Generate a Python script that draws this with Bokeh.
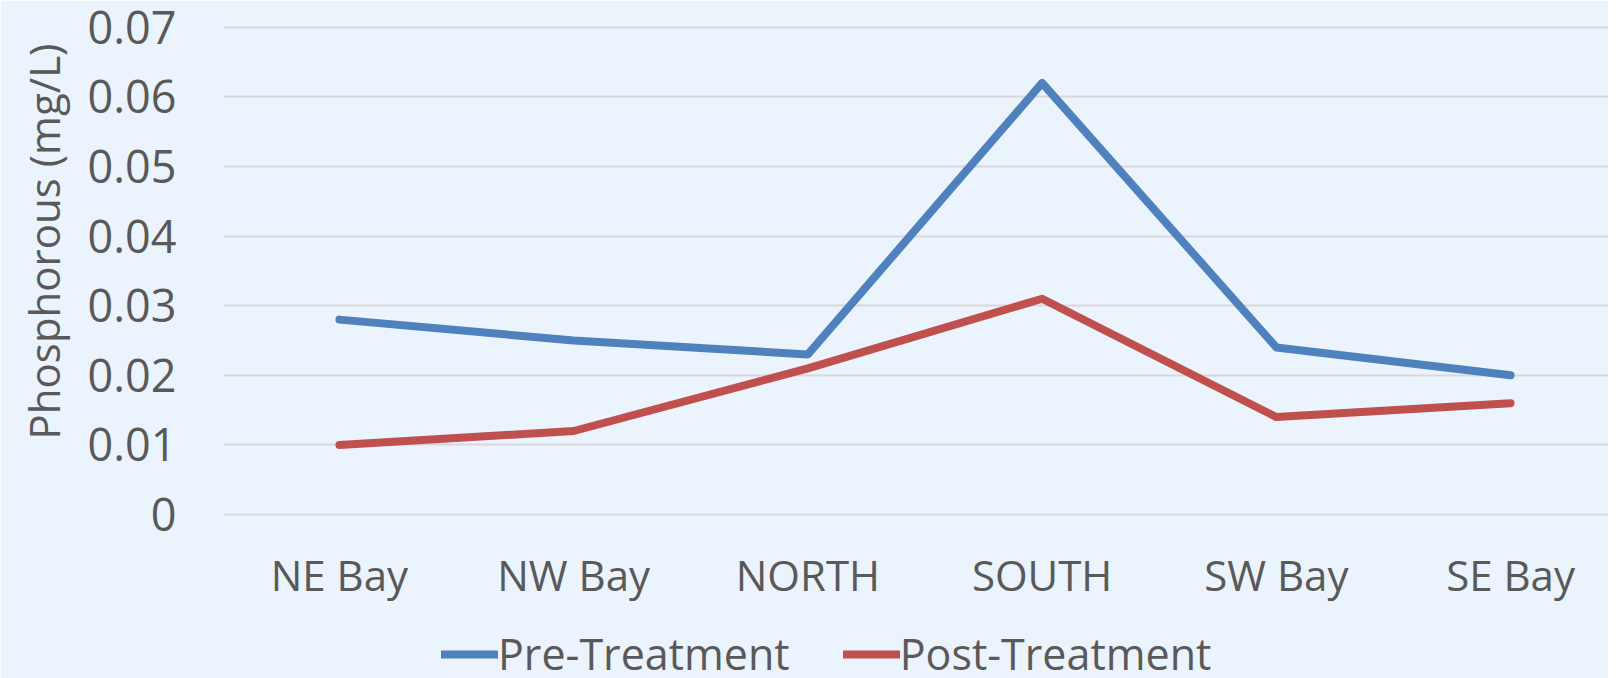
from bokeh.plotting import figure
from bokeh.models import Range1d, FixedTicker, Legend, LegendItem, Title
from bokeh.embed import file_html
from bokeh.resources import INLINE

categories = ["NE Bay", "NW Bay", "NORTH", "SOUTH", "SW Bay", "SE Bay"]
pre_treatment = [0.028, 0.025, 0.023, 0.062, 0.024, 0.020]
post_treatment = [0.010, 0.012, 0.021, 0.031, 0.014, 0.016]
y_ticks = [0, 0.01, 0.02, 0.03, 0.04, 0.05, 0.06, 0.07]
y_tick_labels = ["0", "0.01", "0.02", "0.03", "0.04", "0.05", "0.06", "0.07"]
y_title = "Phosphorous (mg/L)"

FONT = "Open Sans"
TXT = "#595959"
BG = "#EBF3FD"

xs = list(range(len(categories)))

p = figure(frame_width=1385, frame_height=670, output_backend="svg", toolbar_location=None,
           x_range=Range1d(-0.495, 5.418), y_range=Range1d(-0.02356, 0.0727),
           min_border_left=217, min_border_right=0, min_border_top=8, min_border_bottom=0)
p.background_fill_color = BG
p.border_fill_color = BG
p.outline_line_color = None

p.xgrid.grid_line_color = None
p.ygrid.grid_line_color = "#D9D9D9"
p.ygrid.grid_line_width = 2

p.yaxis.ticker = FixedTicker(ticks=y_ticks)
p.yaxis.major_label_overrides = {t: l for t, l in zip(y_ticks, y_tick_labels)}
p.xaxis.ticker = FixedTicker(ticks=xs)
p.xaxis.major_label_overrides = {i: c for i, c in zip(xs, categories)}
p.xaxis.fixed_location = 0

for ax in (p.xaxis[0], p.yaxis[0]):
    ax.axis_line_color = None
    ax.major_tick_line_color = None
    ax.minor_tick_line_color = None
    ax.major_tick_out = 0
    ax.major_tick_in = 0
    ax.major_label_text_font = FONT
    ax.major_label_text_color = TXT

p.yaxis.major_label_text_font_size = "45px"
p.xaxis.major_label_text_font_size = "42px"
p.yaxis.major_label_standoff = 47
p.xaxis.major_label_standoff = 31

ytitle = Title(text=y_title, align="right", offset=35, standoff=25,
               text_font=FONT, text_font_size="42px", text_font_style="normal",
               text_color=TXT)
p.add_layout(ytitle, "left")

r1 = p.line(xs, pre_treatment, line_color="#4F81BD", line_width=8, line_cap="round", line_join="round")
r2 = p.line(xs, post_treatment, line_color="#C0504D", line_width=8, line_cap="round", line_join="round")

legend = Legend(items=[LegendItem(label="Pre-Treatment", renderers=[r1]),
                       LegendItem(label="Post-Treatment", renderers=[r2])],
                orientation="horizontal", location=(218, -5))
legend.label_text_font = FONT
legend.label_text_font_size = "43px"
legend.label_text_color = TXT
legend.glyph_width = 57
legend.label_standoff = 0
legend.spacing = 53
legend.padding = 0
legend.margin = 0
legend.background_fill_alpha = 0
legend.border_line_color = None
p.add_layout(legend, "center")

open("out.html", "w").write(file_html(p, INLINE))
